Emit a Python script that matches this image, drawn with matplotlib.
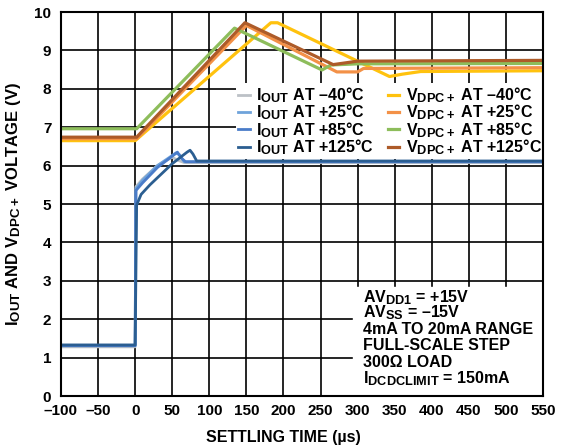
import matplotlib
matplotlib.use("Agg")
import matplotlib.pyplot as plt
import matplotlib._mathtext as _mt

plt.rcParams['font.family'] = ['Liberation Sans', 'DejaVu Sans']
plt.rcParams['font.weight'] = 'bold'
plt.rcParams['mathtext.fontset'] = 'custom'
plt.rcParams['mathtext.rm'] = 'Liberation Sans:bold'
plt.rcParams['mathtext.bf'] = 'Liberation Sans:bold'
plt.rcParams['mathtext.it'] = 'Liberation Sans:bold'
try:
    _mt.SHRINK_FACTOR = 0.8
except Exception:
    pass

# ---- data (time in µs, voltage in V) ----
iout_m40_t = [-100, 0, 1, 10, 30, 50, 56, 66, 550]
iout_m40_v = [1.28, 1.28, 5.45, 5.65, 6.0, 6.22, 6.15, 6.08, 6.08]
iout_25_t = [-100, 0, 1, 10, 30, 55, 60, 66, 550]
iout_25_v = [1.31, 1.31, 5.4, 5.62, 6.0, 6.33, 6.28, 6.1, 6.1]
iout_85_t = [-100, 0, 1, 10, 30, 57, 62, 68, 550]
iout_85_v = [1.31, 1.31, 5.35, 5.55, 5.95, 6.35, 6.2, 6.1, 6.1]
iout_125_t = [-100, 0, 2, 8, 20, 50, 70, 74, 78, 83, 550]
iout_125_v = [1.33, 1.33, 4.97, 5.25, 5.5, 6.05, 6.35, 6.4, 6.3, 6.12, 6.12]

vdpc_m40_t = [-100, 0, 183, 192, 343, 360, 385, 550]
vdpc_m40_v = [6.65, 6.65, 9.72, 9.72, 8.32, 8.38, 8.45, 8.47]
vdpc_25_t = [-100, 2, 150, 272, 300, 308, 550]
vdpc_25_v = [6.70, 6.70, 9.65, 8.44, 8.44, 8.53, 8.55]
vdpc_85_t = [-100, 2, 134, 252, 264, 300, 550]
vdpc_85_v = [6.96, 6.96, 9.58, 8.49, 8.62, 8.65, 8.66]
vdpc_125_t = [-100, 2, 148, 267, 300, 550]
vdpc_125_v = [6.74, 6.74, 9.72, 8.63, 8.72, 8.74]

x_ticks = [-100, -50, 0, 50, 100, 150, 200, 250, 300, 350, 400, 450, 500, 550]
y_ticks = list(range(0, 11))

legend_labels = [
    r'I$_\mathbf{OUT}$ AT –40°C', r'I$_\mathbf{OUT}$ AT +25°C',
    r'I$_\mathbf{OUT}$ AT +85°C', r'I$_\mathbf{OUT}$ AT +125°C',
    r'V$_\mathbf{DPC+}$ AT –40°C', r'V$_\mathbf{DPC+}$ AT +25°C',
    r'V$_\mathbf{DPC+}$ AT +85°C', r'V$_\mathbf{DPC+}$ AT +125°C',
]
note_lines = [
    r'AV$_\mathbf{DD1}$ = +15V',
    r'AV$_\mathbf{SS}$ = –15V',
    '4mA TO 20mA RANGE',
    'FULL-SCALE STEP',
    '300Ω LOAD',
    r'I$_\mathbf{DCDCLIMIT}$ = 150mA',
]

fig = plt.figure(figsize=(5.62, 4.48), dpi=100)
ax = fig.add_axes([61 / 562, 1 - 396 / 448, 482 / 562, 384 / 448])

c_i = ['#bcc1c6', '#6fa3db', '#4a7cc9', '#2b5e91']
c_v = ['#ffc20e', '#f39147', '#8dbd5b', '#ad5b29']

hv = []
for t, v, c in [(vdpc_m40_t, vdpc_m40_v, c_v[0]), (vdpc_25_t, vdpc_25_v, c_v[1]),
                (vdpc_85_t, vdpc_85_v, c_v[2]), (vdpc_125_t, vdpc_125_v, c_v[3])]:
    hv.append(ax.plot(t, v, color=c, lw=2.3, solid_joinstyle='round')[0])
hi = []
for t, v, c in [(iout_m40_t, iout_m40_v, c_i[0]), (iout_25_t, iout_25_v, c_i[1]),
                (iout_85_t, iout_85_v, c_i[2]), (iout_125_t, iout_125_v, c_i[3])]:
    hi.append(ax.plot(t, v, color=c, lw=2.0, solid_joinstyle='round')[0])

ax.set_xlim(-100, 550)
ax.set_ylim(0, 10)
ax.set_xticks(x_ticks)
ax.set_xticklabels([str(x).replace('-', '–') for x in x_ticks])
ax.set_yticks(y_ticks)
ax.set_yticklabels([str(y) for y in y_ticks])
ax.tick_params(length=0, labelsize=11)
ax.tick_params(axis='x', pad=6)
ax.tick_params(axis='y', pad=7)
ax.grid(True, color='black', lw=1.2)
ax.set_axisbelow(True)
for s in ax.spines.values():
    s.set_linewidth(1.5)
    s.set_zorder(5)

fig.text(283 / 562, 1 - 437 / 448, 'SETTLING TIME (µs)', fontsize=11.5,
         fontweight='bold', ha='center', va='center')
ax.set_ylabel(r'I$_\mathbf{OUT}$ AND V$_\mathbf{DPC+}$ VOLTAGE (V)', fontsize=12,
              fontweight='bold')
ax.yaxis.set_label_coords((23 - 61) / 482, 0.5)

leg = ax.legend(hi + hv, legend_labels, ncol=2, loc='upper left',
                bbox_to_anchor=(236 / 562, 1 - 83 / 448), bbox_transform=fig.transFigure,
                frameon=True, facecolor='white', edgecolor='none', framealpha=1,
                fancybox=False, fontsize=11.5, handlelength=0.7, handletextpad=0.4,
                columnspacing=0.9, labelspacing=-0.15, borderpad=0.15, borderaxespad=0)
leg.get_frame().set_linewidth(0)
leg.set_zorder(4)

# annotation block
ax.fill_between([294, 549], 0.05, 2.85, color='white', zorder=3)
note_y = [2.44, 2.05, 1.62, 1.19, 0.76, 0.33]
for txt, y in zip(note_lines, note_y):
    ax.text(307, y, txt, fontsize=11.5, fontweight='bold', va='baseline', ha='left', zorder=4)

fig.savefig('out.png', dpi=100)
